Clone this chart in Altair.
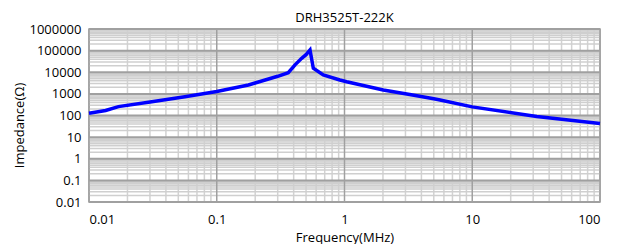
import altair as alt
import pandas as pd

# Impedance curve
freq_mhz = [0.01, 0.0135, 0.017, 0.031, 0.0563, 0.1, 0.177, 0.30, 0.363, 0.41,
            0.462, 0.50, 0.537, 0.570, 0.682, 0.92, 1.04, 2.01, 3.24, 5.0, 5.6,
            10.0, 32.0, 100.0]
impedance = [126, 170, 257, 437, 740, 1300, 2580, 6500, 9500, 22000,
             44000, 65000, 107000, 15200, 7460, 4400, 3660, 1520, 940, 590, 525,
             250, 90, 43]

x_ticks = [0.01, 0.1, 1, 10, 100]
y_ticks = [0.01, 0.1, 1, 10, 100, 1000, 10000, 100000, 1000000]
minor_mult = [2, 3, 4, 5, 6, 7, 8, 9]

x_minor = [m * t for t in x_ticks[:-1] for m in minor_mult]
y_minor = [m * t for t in y_ticks[:-1] for m in minor_mult]

FONT = "Open Sans"
FS = 13
xs = alt.Scale(type="log", domain=[0.01, 100], nice=False)
ys = alt.Scale(type="log", domain=[0.01, 1000000], nice=False)

x_axis = alt.Axis(values=x_ticks, format="~f", grid=False, ticks=False,
                  domain=False, labelPadding=11, titlePadding=5,
                  labelFont=FONT, titleFont=FONT, labelFontSize=FS,
                  titleFontSize=FS, titleFontWeight="normal",
                  labelColor="#000", titleColor="#000")
y_axis = alt.Axis(values=y_ticks, format="~f", grid=False, ticks=False,
                  domain=False, labelPadding=8, titlePadding=2, titleY=96,
                  labelFont=FONT, titleFont=FONT, labelFontSize=FS,
                  titleFontSize=FS, titleFontWeight="normal",
                  labelColor="#000", titleColor="#000")


def xenc():
    return alt.X("f:Q", scale=xs, title="Frequency(MHz)", axis=x_axis)


def yenc():
    return alt.Y("z:Q", scale=ys, title="Impedance(Ω)", axis=y_axis)


curve = pd.DataFrame({"f": freq_mhz, "z": impedance})

vminor = alt.Chart(pd.DataFrame({"f": x_minor})).mark_rule(
    color="#d2d2d2", strokeWidth=1.5
).encode(x=xenc())
hminor = alt.Chart(pd.DataFrame({"z": y_minor})).mark_rule(
    color="#cfcfcf", strokeWidth=1.5
).encode(y=yenc())
vmajor = alt.Chart(pd.DataFrame({"f": x_ticks})).mark_rule(
    color="#a0a0a0", strokeWidth=1.5
).encode(x=xenc())
hmajor = alt.Chart(pd.DataFrame({"z": y_ticks})).mark_rule(
    color="#a0a0a0", strokeWidth=2
).encode(y=yenc())

line = alt.Chart(curve).mark_line(color="#0000ff", strokeWidth=3.5).encode(
    x=xenc(), y=yenc(), order=alt.Order("f:Q"),
)

chart = alt.layer(vminor, hminor, vmajor, hmajor, line).properties(
    width=511, height=173,
    title=alt.TitleParams("DRH3525T-222K", font=FONT, fontSize=FS,
                          fontWeight="normal", color="#000", anchor="middle",
                          offset=-2),
    autosize=alt.AutoSizeParams(type="none"),
    padding={"left": 81, "top": 21, "right": 19, "bottom": 42},
).configure_view(stroke="#9a9a9a", strokeWidth=1.5)

chart.save("out.html", embed_options={"renderer": "svg", "actions": False})
